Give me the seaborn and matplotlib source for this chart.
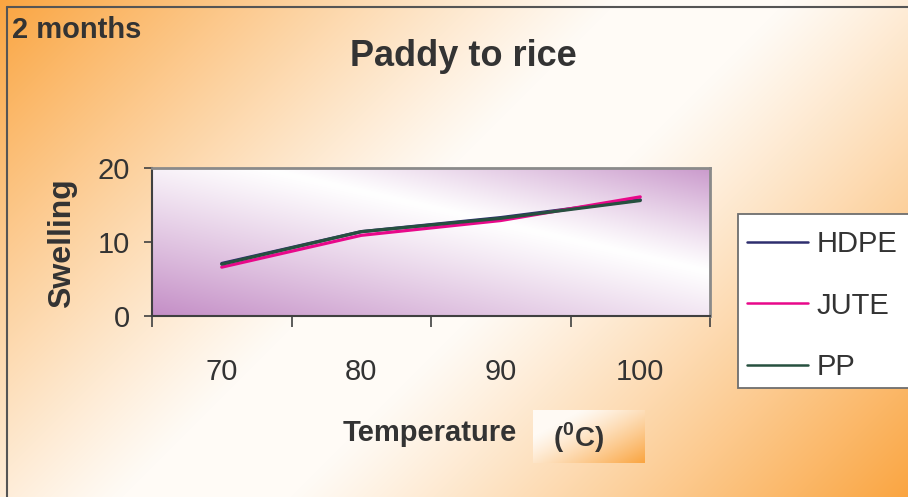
import numpy as np
import pandas as pd
import matplotlib
matplotlib.use("Agg")
import matplotlib.pyplot as plt
import seaborn as sns
from matplotlib.patches import Rectangle
from matplotlib.lines import Line2D

# ---- data ----
temperature = [70, 80, 90, 100]
hdpe = [7.1, 11.4, 13.3, 15.7]
jute = [6.6, 10.9, 12.9, 16.1]
pp = [7.0, 11.4, 13.2, 15.6]
series_names = ["HDPE", "JUTE", "PP"]
line_colors = ["#2E2E6E", "#E8088A", "#26503F"]

df = pd.DataFrame({
    "Temperature": temperature * 3,
    "Swelling": hdpe + jute + pp,
    "Material": [n for n in series_names for _ in temperature],
})

sns.set_theme(style="white")
plt.rcParams['font.family'] = ['Liberation Sans', 'DejaVu Sans']
plt.rcParams['mathtext.fontset'] = 'custom'
plt.rcParams['mathtext.bf'] = 'Liberation Sans:bold'
plt.rcParams['mathtext.rm'] = 'Liberation Sans'
TXT = "#333333"

W, H = 908, 497
fig = plt.figure(figsize=(W / 100, H / 100), dpi=100)

# orange -> white -> orange slide background (diagonal, in pixels)
bg = fig.add_axes([0, 0, 1, 1], zorder=-10)
yy, xx = np.mgrid[0:H, 0:W]
d = np.abs(2 * (xx + yy) / (W + H) - 1)
w = np.clip((d - 0.12) / 0.88, 0, 1) ** 1.1
orange = np.array([250, 165, 65]) / 255
white = np.array([255, 251, 246]) / 255
bg.imshow(white * (1 - w[..., None]) + orange * w[..., None],
          extent=[0, 1, 0, 1], aspect='auto', origin='upper')
bg.axis('off')

# plot area
ax = fig.add_axes([152 / W, 1 - 316 / H, 558 / W, 148 / H])
vv, uu = np.mgrid[0:1:150j, 0:1:560j]
s = 0.7 * uu + 0.8 * vv - 0.94
pw = np.where(s < 0, -s / 0.94, s / 0.56 * 0.9)
pw = np.clip(pw, 0, 1) ** 1.1
purple = np.array([196, 142, 198]) / 255
ax.imshow(np.ones(3) * (1 - pw[..., None]) + purple * pw[..., None],
          extent=[0, 1, 0, 1], transform=ax.transAxes, aspect='auto',
          origin='lower', zorder=0)

sns.lineplot(data=df, x="Temperature", y="Swelling", hue="Material",
             palette=dict(zip(series_names, line_colors)), linewidth=2.3,
             ax=ax, zorder=3)
handles, labels = ax.get_legend_handles_labels()
ax.get_legend().remove()

ax.set_xlim(65, 105)
ax.set_ylim(0, 20)
ax.set_xticks([65, 75, 85, 95, 105])
ax.set_xticklabels([])
ax.set_xticks(temperature, minor=True)
ax.set_xticklabels([str(t) for t in temperature], minor=True)
ax.tick_params(axis='x', which='major', length=8, width=1.2, color='#404040',
               direction='out', bottom=True)
ax.tick_params(axis='x', which='minor', length=0, pad=30, labelsize=21,
               labelcolor=TXT, bottom=True)
ax.set_yticks([0, 10, 20])
ax.tick_params(axis='y', length=6, width=1.2, color='#404040', pad=10,
               labelsize=21, labelcolor=TXT, left=True, direction='out')
ax.set_xlabel("")
ax.set_ylabel("")
for side in ["left", "bottom"]:
    ax.spines[side].set_color('#404040')
    ax.spines[side].set_linewidth(1.5)
for side in ["top", "right"]:
    ax.spines[side].set_color('#8A8A8A')
    ax.spines[side].set_linewidth(2)

# texts
fig.text(12 / W, 1 - 30 / H, "2 months", fontsize=21, weight='bold', color=TXT, va='center')
fig.text(463 / W, 1 - 57 / H, "Paddy to rice", fontsize=26, weight='bold', color=TXT,
         ha='center', va='center')
fig.text(62 / W, 1 - 243 / H, "Swelling", rotation=90, fontsize=23, weight='bold',
         color=TXT, ha='center', va='center')
fig.text(430 / W, 1 - 433 / H, "Temperature", fontsize=21, weight='bold', color=TXT,
         ha='center', va='center')

# unit box with its own gradient
ub = fig.add_axes([533 / W, 1 - 463 / H, 112 / W, 53 / H], zorder=-5)
vb, ubx = np.mgrid[0:1:53j, 0:1:112j]
bw = np.clip((ubx * 0.7 + vb * 0.6 - 0.3) / 1.0, 0, 1) ** 1.2
ub.imshow(np.array([255, 250, 244]) / 255 * (1 - bw[..., None]) + orange * bw[..., None],
          extent=[0, 1, 0, 1], aspect='auto', origin='upper')
ub.axis('off')
fig.text(579 / W, 1 - 438 / H, r"(${}^{\mathbf{0}}$C)", fontsize=20, weight='bold',
         color=TXT, ha='center', va='center')

# slide frame
fig.add_artist(Line2D([7 / W, 7 / W], [0, 1 - 7 / H], color='#555555', lw=1.5))
fig.add_artist(Line2D([7 / W, 1], [1 - 7 / H, 1 - 7 / H], color='#555555', lw=1.5))

# legend
fig.add_artist(Rectangle((738 / W, 1 - 388 / H), 180 / W, 174 / H,
                         transform=fig.transFigure, facecolor='white',
                         edgecolor='#6E6E6E', lw=1.3, zorder=1))
leg = fig.legend(handles, labels, loc='upper left', bbox_to_anchor=(747 / W, 1 - 230 / H),
                 frameon=False, fontsize=21, handlelength=2.1, handletextpad=0.3,
                 labelspacing=1.15, borderpad=0, borderaxespad=0, labelcolor=TXT)
for ln in leg.get_lines():
    ln.set_linewidth(1.8)

fig.savefig("out.png", dpi=100)
